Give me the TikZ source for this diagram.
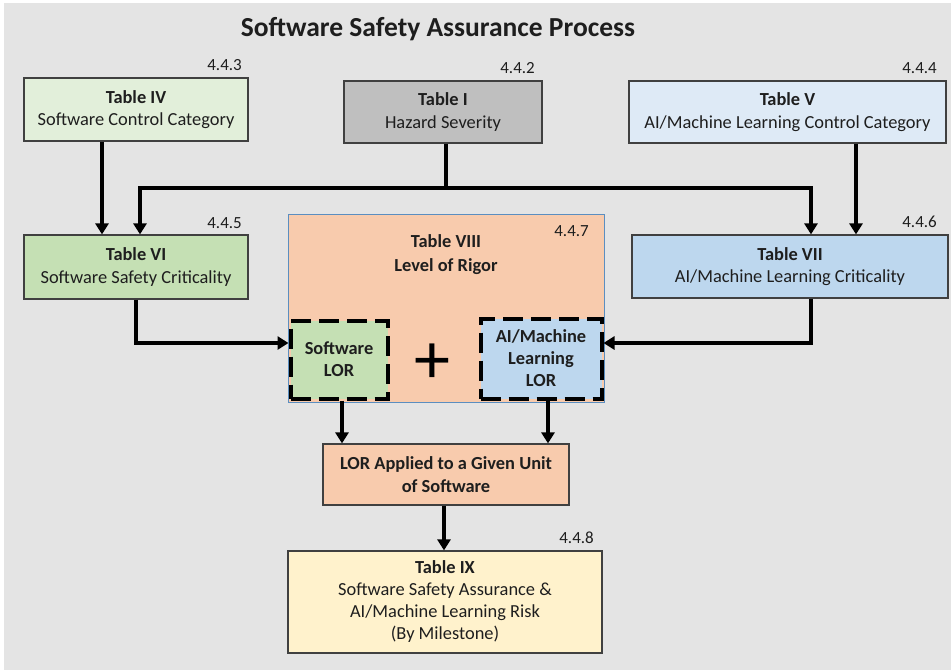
\documentclass[tikz,border=0pt]{standalone}
\usepackage{fontspec}
\setmainfont{Carlito}
\usetikzlibrary{arrows.meta}
\definecolor{bgc}{HTML}{E4E4E4}
\definecolor{txt}{HTML}{1E1E1E}
\definecolor{bord}{HTML}{404040}
\definecolor{gA}{HTML}{E2EFDA}
\definecolor{gB}{HTML}{C5E0B4}
\definecolor{bA}{HTML}{DEEAF6}
\definecolor{bB}{HTML}{BDD7EE}
\definecolor{grayI}{HTML}{BFBFBF}
\definecolor{orng}{HTML}{F8CBAD}
\definecolor{ylw}{HTML}{FFF2CC}
\definecolor{blueln}{HTML}{5B8EC0}
\tikzset{
  tbox/.style={draw=bord, line width=1.2pt, align=center, text=txt, inner sep=0pt,
     font=\fontsize{18.4}{22.5}\selectfont},
  lorbox/.style={draw=black, line width=4pt, dash pattern=on 20pt off 8pt, align=center,
     text=txt, inner sep=0pt, font=\bfseries\fontsize{18.4}{22}\selectfont},
  secno/.style={anchor=east, text=txt, inner sep=0pt, font=\fontsize{17}{18}\selectfont},
  conn/.style={line width=4pt, draw=black},
  arr/.style={conn, -{Triangle[width=13pt,length=11pt]}},
}
\begin{document}
\begin{tikzpicture}[x=1pt,y=-1pt]
\useasboundingbox (0,0) rectangle (951,670);
\fill[white] (0,0) rectangle (951,670);
\fill[bgc] (4,3) rectangle (951,670);

\node[text=txt, font=\bfseries\fontsize{27.5}{30}\selectfont, inner sep=0pt] (title) at (438,29) {Software Safety Assurance Process};

% top row
\node[tbox, fill=gA, minimum width=224pt, minimum height=63pt] (tIV) at (136,109.5) {\textbf{Table IV}\\Software Control Category};
\node[tbox, fill=grayI, minimum width=198pt, minimum height=62pt] (tI) at (443,112) {\textbf{Table I}\\Hazard Severity};
\node[tbox, fill=bA, minimum width=317pt, minimum height=62pt] (tV) at (787.5,112) {\textbf{Table V}\\AI/Machine Learning Control Category};

% middle row
\node[tbox, fill=gB, minimum width=224pt, minimum height=64pt] (tVI) at (136,267) {\textbf{Table VI}\\Software Safety Criticality};
\node[tbox, fill=bB, minimum width=316pt, minimum height=63pt] (tVII) at (790,266.5) {\textbf{Table VII}\\AI/Machine Learning Criticality};

\node[draw=blueln, line width=0.9pt, fill=orng, minimum width=316pt, minimum height=188pt, inner sep=0pt] (tVIII) at (446,308) {};
\node[text=txt, align=center, inner sep=0pt, font=\bfseries\fontsize{18.4}{24}\selectfont] (tVIIIlbl) at (446,255) {Table VIII\\Level of Rigor};

\node[lorbox, fill=gB, minimum width=97pt, minimum height=78pt] (swlor) at (339,359.5) {Software\\LOR};
\node[lorbox, fill=bB, minimum width=121pt, minimum height=80pt] (ailor) at (541,358.5) {AI/Machine\\Learning\\LOR};
\node[text=black, inner sep=0pt, font=\fontsize{72}{72}\selectfont] (plus) at (432,364) {+};

\node[tbox, fill=orng, minimum width=246pt, minimum height=61pt, font=\bfseries\fontsize{18.4}{22.5}\selectfont] (lor) at (446,474.5) {LOR Applied to a Given Unit\\of Software};
\node[tbox, fill=ylw, minimum width=314pt, minimum height=102pt, font=\fontsize{18.4}{22}\selectfont] (tIX) at (445,602) {\textbf{Table IX}\\Software Safety Assurance \&\\AI/Machine Learning Risk\\(By Milestone)};

% section numbers
\node[secno] (s443) at (242,65) {4.4.3};
\node[secno] (s442) at (535,68) {4.4.2};
\node[secno] (s444) at (937,68) {4.4.4};
\node[secno] (s445) at (242,223) {4.4.5};
\node[secno] (s446) at (937,222) {4.4.6};
\node[secno] (s447) at (589,231) {4.4.7};
\node[secno] (s448) at (594,538) {4.4.8};

% connectors
\draw[arr] ([xshift=-34pt]tIV.south) -- ([xshift=-34pt]tVI.north);
\draw[conn] ([xshift=3pt]tI.south) -- ++(0,44) coordinate (hz);
\draw[arr] ([xshift=2pt]hz) -| ([xshift=4pt]tVI.north);
\draw[arr] ([xshift=-2pt]hz) -| ([xshift=21pt]tVII.north);
\draw[arr] ([xshift=68.5pt]tV.south) -- ([xshift=66pt]tVII.north);
\draw[arr] (tVI.south) |- ([yshift=16.5pt]swlor.west);
\draw[arr] ([xshift=21pt]tVII.south) |- ([yshift=15.5pt]ailor.east);
\draw[arr] ([xshift=3pt]swlor.south) -- ([xshift=3pt]swlor.south |- lor.north);
\draw[arr] ([xshift=7pt]ailor.south) -- ([xshift=7pt]ailor.south |- lor.north);
\draw[arr] ([xshift=-2pt]lor.south) -- ([xshift=-2pt]lor.south |- tIX.north);
\end{tikzpicture}
\end{document}
